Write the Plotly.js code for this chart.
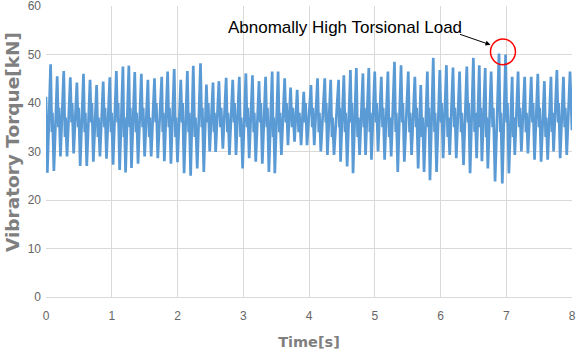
<!DOCTYPE html>
<html>
<head>
<meta charset="utf-8">
<script src="https://cdn.plot.ly/plotly-3.0.1.min.js"></script>
<style>html,body{margin:0;padding:0;background:#fff;}#chart{width:576px;height:351px;}</style>
</head>
<body>
<div id="chart"></div>
<script>
// Peak times [s] and values [kN]
const peakT = [0.07,0.17,0.27,0.37,0.47,0.57,0.67,0.77,0.87,0.97,1.07,1.17,1.26,1.35,
  1.45,1.55,1.65,1.76,1.85,1.95,2.05,2.15,2.24,2.35,2.44,2.54,2.63,
  2.74,2.84,2.94,3.04,3.14,3.24,3.34,3.44,3.53,3.63,3.72,3.82,3.92,
  4.03,4.13,4.24,4.33,4.45,4.53,4.63,4.72,4.82,4.91,5.0,5.1,5.2,5.3,
  5.4,5.51,5.61,5.7,5.8,5.89,5.99,6.09,6.19,6.29,6.4,6.5,6.59,
  6.68,6.77,6.89,6.99,7.09,7.18,7.28,7.38,7.48,7.58,7.68,7.77,7.87,7.97];
const peakV = [48,45.5,46.6,45.3,44.2,46,44.8,43.7,44.4,45.3,46.6,47.5,47.7,46.4,
  46,44.8,45.1,45.4,46.5,47,44.8,46.6,47.7,48.2,43.8,44.2,44.5,
  45.2,44.8,45.4,46.1,45.7,44.5,45.4,46.5,46.5,45.1,43.2,42.7,42.3,
  43.7,45.1,45.1,44.8,44.8,45.7,46.8,47.2,46.1,47.2,46.5,45.4,46.5,48.5,
  47.8,46.5,45.4,43.7,46.5,49.3,46.8,47.8,47.3,46.5,47.5,49.3,47.8,
  47.2,46.5,50.2,50.0,45.4,46.5,45.4,45.4,46,44.5,45.4,46.8,45.4,46.5];
// Trough times [s] and values [kN]
const troughT = [0.02,0.12,0.22,0.32,0.42,0.52,0.62,0.72,0.82,0.92,1.02,1.12,1.21,1.30,
  1.40,1.50,1.60,1.70,1.80,1.90,2.0,2.1,2.2,2.3,2.4,2.49,2.58,
  2.69,2.79,2.89,2.99,3.09,3.19,3.29,3.39,3.48,3.58,3.68,3.78,3.88,3.97,
  4.08,4.18,4.28,4.38,4.48,4.58,4.67,4.77,4.86,4.95,5.05,5.15,5.25,5.35,
  5.45,5.56,5.66,5.75,5.84,5.94,6.04,6.14,6.24,6.35,6.45,6.55,6.63,
  6.72,6.83,6.94,7.04,7.13,7.23,7.33,7.43,7.53,7.63,7.72,7.82,7.92];
const troughV = [25.6,26,29,29,29.6,27,27,27.9,29,28.5,27.3,26.2,25.7,26.6,
  27.5,29,29,28.6,28,27.5,27.8,25.5,25,26.5,25.8,30,29.9,
  30.6,29.3,29.3,26.5,28.6,27.9,27.5,25.8,25.5,29.3,31.3,32,31.3,31.3,
  31.3,30,29.3,29.3,27.9,26.9,25.5,29.3,29.3,28.3,30,28.3,29,25.8,
  27.9,29.3,26.5,25.8,24.1,25.8,28.6,29.3,28.6,27.2,25.5,28.6,28,
  26.5,23.8,23.4,25.5,29.3,30,29.6,28.3,27.9,28.3,30,28.6,29.3];
// Small reversal (kink) on each down-stroke: low then high value [kN]
const kinkLo = [34,35,33,36,35,34,36,33,35,34,36,33,35,34,
  35,33,36,34,35,33,36,34,33,35,36,34,35,
  34,36,33,35,34,36,35,33,34,36,35,34,36,
  35,34,36,33,35,34,36,33,35,34,36,35,33,34,
  36,34,35,33,35,34,36,33,35,34,36,34,35,
  33,35,34,36,33,35,34,36,35,33,34,36,35,34];
const kinkHi = [38,39,37,40,39,38,40,37,39,38,40,37,39,38,
  39,37,40,38,39,37,40,38,37,39,40,38,39,
  38,40,37,39,38,40,39,37,38,40,39,38,40,
  39,38,40,37,39,38,40,37,39,38,40,39,37,38,
  40,38,39,37,39,38,40,37,39,38,40,38,39,
  37,39,38,40,37,39,38,40,39,37,38,40,39,38];
const startT = 0, startV = 41.3, endT = 8, endV = 34.4;
const xTicks = [0,1,2,3,4,5,6,7,8];
const yTicks = [0,10,20,30,40,50,60];

const pts = [[startT,startV]];
peakT.forEach((t,i)=>{
  pts.push([t,peakV[i]]);
  if (i+1 < troughT.length) {
    const tn = troughT[i+1], dt = tn - t;
    pts.push([t+0.38*dt, kinkLo[i]]);
    pts.push([t+0.56*dt, kinkHi[i]]);
  }
});
troughT.forEach((t,i)=>pts.push([t,troughV[i]]));
pts.push([endT,endV]);
pts.sort((a,b)=>a[0]-b[0]);
const xs = pts.map(p=>p[0]), ys = pts.map(p=>p[1]);

const trace = {x: xs, y: ys, type:'scatter', mode:'lines',
  line:{color:'#5b9bd5', width:2.7}, hoverinfo:'skip'};

const layout = {
  width:576, height:351,
  margin:{l:46, r:4, t:6, b:54},
  paper_bgcolor:'#fff', plot_bgcolor:'#fff',
  showlegend:false,
  font:{family:'Liberation Sans, Arial, sans-serif', color:'#595959', size:12},
  xaxis:{range:[0,8], tickvals:xTicks, ticktext:xTicks.map(String),
    showgrid:true, gridcolor:'#d9d9d9', gridwidth:1, zeroline:false,
    showline:true, linecolor:'#d9d9d9', ticks:'', ticklabelstandoff:8,
    tickfont:{size:12, color:'#666666'},
    title:{text:'<b>Time[s]</b>', font:{family:'DejaVu Sans, sans-serif', size:14.5, color:'#7f7f7f'}, standoff:14}},
  yaxis:{range:[0,60], tickvals:yTicks, ticktext:yTicks.map(String),
    showgrid:true, gridcolor:'#d9d9d9', gridwidth:1, zeroline:false,
    showline:false, ticks:'', ticklabelstandoff:4, ticklabeloverflow:'allow',
    tickfont:{size:12, color:'#666666'}},
  shapes:[{type:'circle', xref:'x', yref:'y', x0:6.76, x1:7.14, y0:47.9, y1:53.2,
    line:{color:'#ff0000', width:1.5}}],
  annotations:[
    {xref:'paper', yref:'paper', x:(12-46)/526, y:(297-142)/291, xanchor:'center', yanchor:'middle',
     textangle:-90, text:'<b>Vibratory Torque[kN]</b>', showarrow:false,
     font:{family:'DejaVu Sans, sans-serif', size:18.5, color:'#7f7f7f'}},
    {xref:'paper', yref:'paper', x:(345-46)/526, y:(297-28)/291, xanchor:'center', yanchor:'middle',
     text:'Abnomally High Torsional Load', showarrow:false,
     font:{family:'Liberation Sans Narrow, Arial Narrow, sans-serif', size:17, color:'#000'}},
    {xref:'x', yref:'y', x:6.76, y:52.0, ax:-32, ay:-11, text:'', showarrow:true,
     arrowhead:2, arrowsize:1, arrowwidth:1, arrowcolor:'#000'}
  ]
};
Plotly.newPlot('chart',[trace],layout,{staticPlot:true, displayModeBar:false});
</script>
</body>
</html>
